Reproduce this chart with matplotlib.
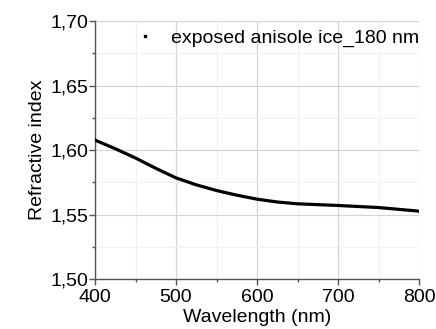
import numpy as np
import matplotlib
matplotlib.use("Agg")
import matplotlib.pyplot as plt
from matplotlib.ticker import MultipleLocator, FuncFormatter

# Refractive index
wavelength = [400, 425, 450, 475, 500, 525, 550, 575, 600, 625, 650, 700, 750, 800]
refr_index = [1.6077, 1.6010, 1.5938, 1.5858, 1.5784, 1.5730, 1.5686, 1.5650, 1.5619,
              1.5597, 1.5583, 1.5570, 1.5554, 1.5526]
label = "exposed anisole ice_180 nm"

plt.rcParams['font.family'] = ['Liberation Sans', 'DejaVu Sans']

fig = plt.figure(figsize=(4.36, 3.29), dpi=100)
ax = fig.add_axes([0.218, 0.152, 0.743, 0.784])

ax.plot(wavelength, refr_index, color='black', lw=2.3, zorder=3)
# legend entry is a small dot, like the original
ax.plot([], [], ls='none', marker='s', ms=2, color='black', label=label)

ax.set_xlim(400, 800)
ax.set_ylim(1.50, 1.70)
ax.xaxis.set_major_locator(MultipleLocator(100))
ax.xaxis.set_minor_locator(MultipleLocator(50))
ax.yaxis.set_major_locator(MultipleLocator(0.05))
ax.yaxis.set_minor_locator(MultipleLocator(0.025))
ax.yaxis.set_major_formatter(FuncFormatter(lambda v, p: ('%.2f' % v).replace('.', ',')))

ax.grid(which='major', color='#d4d4d4', lw=0.9)
ax.grid(which='minor', color='#f0f0f0', lw=0.9)
ax.set_axisbelow(True)

for s in ['top', 'right']:
    ax.spines[s].set_visible(False)
for s in ['left', 'bottom']:
    ax.spines[s].set_color('#555555')
    ax.spines[s].set_linewidth(1.0)

ax.tick_params(which='major', direction='out', length=4, width=1, color='#555555',
               labelsize=14, pad=1)
ax.tick_params(axis='x', which='major', pad=3)
ax.tick_params(which='minor', direction='out', length=2, width=1, color='#555555')

ax.set_xlabel("Wavelength (nm)", fontsize=14, labelpad=2.5)
ax.set_ylabel("Refractive index", fontsize=14, labelpad=3)

ax.legend(loc='upper right', frameon=False, fontsize=14, handlelength=0.8,
          handletextpad=0.95, borderaxespad=0.0, bbox_to_anchor=(1.025, 1.0))

fig.savefig("out.png", dpi=100)
